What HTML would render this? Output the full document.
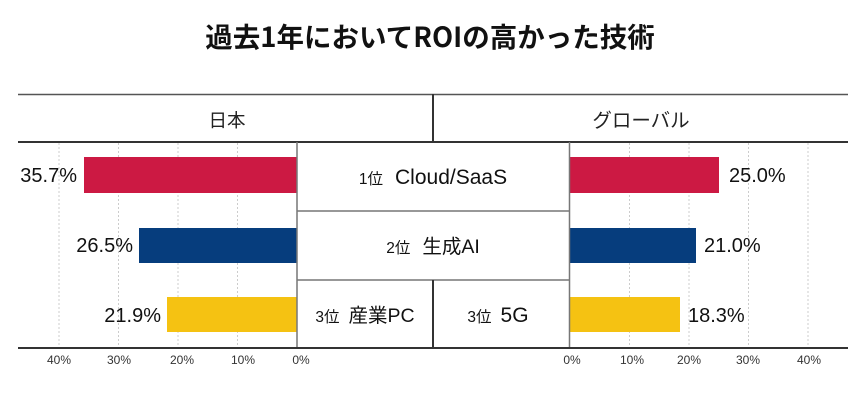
<!DOCTYPE html>
<html><head><meta charset="utf-8">
<style>
html,body{margin:0;padding:0;background:#fff;}
body{width:866px;height:404px;overflow:hidden;}
svg text{font-family:"Liberation Sans","Noto Sans CJK JP",sans-serif;}
</style></head>
<body>
<svg width="866" height="404" viewBox="0 0 866 404" xmlns="http://www.w3.org/2000/svg">
<rect width="866" height="404" fill="#fff"/>
<!-- title -->
<text x="430" y="47" text-anchor="middle" font-size="27.5" font-weight="bold" fill="#111" style="font-family:'Noto Sans CJK JP','Liberation Sans',sans-serif">過去1年においてROIの高かった技術</text>

<!-- gridlines -->
<g stroke="#ccc" stroke-width="1" stroke-dasharray="2,2">
<line x1="59" y1="143" x2="59" y2="347"/>
<line x1="118.5" y1="143" x2="118.5" y2="347"/>
<line x1="178" y1="143" x2="178" y2="347"/>
<line x1="237.5" y1="143" x2="237.5" y2="347"/>
<line x1="629.5" y1="143" x2="629.5" y2="347"/>
<line x1="689" y1="143" x2="689" y2="347"/>
<line x1="748.5" y1="143" x2="748.5" y2="347"/>
<line x1="808" y1="143" x2="808" y2="347"/>
</g>

<!-- header -->
<line x1="18" y1="94.5" x2="848" y2="94.5" stroke="#555" stroke-width="1.5"/>
<line x1="18" y1="142" x2="848" y2="142" stroke="#333" stroke-width="2"/>
<line x1="433" y1="94" x2="433" y2="142" stroke="#333" stroke-width="2"/>
<text x="227" y="127" text-anchor="middle" font-size="18.5" fill="#222">日本</text>
<text x="641" y="127" text-anchor="middle" font-size="19.5" fill="#222">グローバル</text>

<!-- bars left -->
<rect x="84" y="157" width="213" height="36" fill="#CC1943"/>
<rect x="139" y="228" width="158" height="35" fill="#063D7D"/>
<rect x="167" y="297" width="130" height="35" fill="#F5C212"/>
<!-- bars right -->
<rect x="570" y="157" width="149" height="36" fill="#CC1943"/>
<rect x="570" y="228" width="126" height="35" fill="#063D7D"/>
<rect x="570" y="297" width="110" height="35" fill="#F5C212"/>

<!-- center box -->
<g stroke="#777" stroke-width="1.5" fill="none">
<line x1="297" y1="142" x2="297" y2="348"/>
<line x1="569.5" y1="142" x2="569.5" y2="348"/>
<line x1="297" y1="211" x2="569.5" y2="211"/>
<line x1="297" y1="280" x2="569.5" y2="280"/>
</g>
<line x1="433" y1="280" x2="433" y2="348" stroke="#333" stroke-width="2"/>

<!-- axis line -->
<line x1="18" y1="348" x2="848" y2="348" stroke="#333" stroke-width="2"/>

<!-- center labels -->
<text x="433" y="184" text-anchor="middle" fill="#111"><tspan font-size="15.5">1位</tspan><tspan font-size="21" dx="12">Cloud/SaaS</tspan></text>
<text x="433" y="253" text-anchor="middle" fill="#111"><tspan font-size="15.5">2位</tspan><tspan font-size="19.5" dx="12">生成AI</tspan></text>
<text x="365" y="322" text-anchor="middle" fill="#111"><tspan font-size="15.5">3位</tspan><tspan font-size="19.5" dx="9">産業PC</tspan></text>
<text x="498" y="322" text-anchor="middle" fill="#111"><tspan font-size="15.5">3位</tspan><tspan font-size="21" dx="9">5G</tspan></text>

<!-- value labels -->
<g font-size="20" fill="#111">
<text x="77" y="182" text-anchor="end">35.7%</text>
<text x="133" y="252" text-anchor="end">26.5%</text>
<text x="161" y="322" text-anchor="end">21.9%</text>
<text x="729" y="182">25.0%</text>
<text x="704" y="252">21.0%</text>
<text x="688" y="322">18.3%</text>
</g>

<!-- tick labels -->
<g font-size="12" fill="#333" text-anchor="middle">
<text x="59" y="364">40%</text>
<text x="119" y="364">30%</text>
<text x="182" y="364">20%</text>
<text x="243" y="364">10%</text>
<text x="301" y="364">0%</text>
<text x="572" y="364">0%</text>
<text x="632" y="364">10%</text>
<text x="689" y="364">20%</text>
<text x="748" y="364">30%</text>
<text x="809" y="364">40%</text>
</g>
</svg>
</body></html>
